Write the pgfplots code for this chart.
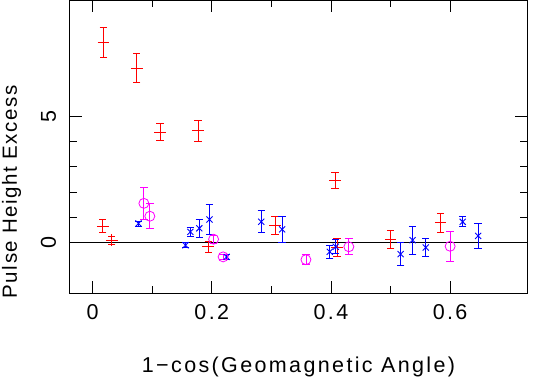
\documentclass[border=0pt]{standalone}
\usepackage{fontspec}
\setmainfont{Liberation Sans}[LetterSpace=11]
\newfontfamily\ylabfont{Liberation Sans}[LetterSpace=7.5]
\usepackage{pgfplots}
\pgfplotsset{compat=1.18}

\definecolor{pred}{RGB}{255,0,0}
\definecolor{pblue}{RGB}{0,0,255}
\definecolor{pmag}{RGB}{255,0,255}

\begin{document}
\begin{tikzpicture}
\path[use as bounding box] (-70pt,-85pt) rectangle (463pt,293pt);
\begin{axis}[
  scale only axis, width=457pt, height=293pt,
  xmin=-0.038, xmax=0.729, ymin=-2, ymax=9.6,
  xtick={0,0.2,0.4,0.6}, minor x tick num=1,
  ytick={0,5}, minor y tick num=4,
  tick align=inside, tick pos=both,
  major tick length=12pt, minor tick length=7pt,
  axis line style={black, line width=1pt},
  every tick/.style={black, line width=0.8pt},
  /pgf/number format/assume math mode=true,
  tick label style={font=\fontsize{21.5}{25}\selectfont},
  xticklabel style={anchor=base, yshift=0pt},
  xticklabel shift=26pt,
  yticklabel style={rotate=90, anchor=base},
  yticklabel shift=14pt,
  xlabel={1−cos(Geomagnetic Angle)},
  ylabel={Pulse Height Excess},
  xlabel style={font=\fontsize{21.5}{25}\selectfont, at={(axis description cs:0.5,0)}, anchor=base, yshift=-79.5pt},
  ylabel style={font=\ylabfont\fontsize{20.5}{24}\selectfont, at={(axis description cs:-0.116,0.345)}, anchor=base},
  error bars/y dir=both, error bars/y explicit,
  error bars/error mark options={rotate=90, mark size=3.7pt, line width=0.8pt},
  error bars/error bar style={line width=0.8pt},
]
\draw[black, line width=0.8pt] (axis cs:-0.038,0) -- (axis cs:0.729,0);

% red crosses
\addplot[only marks, pred, mark=+, mark size=5.8pt, mark options={line width=0.8pt}]
coordinates {
(0.018,7.92) +- (0,0.61)
(0.074,6.90) +- (0,0.58)
(0.113,4.37) +- (0,0.34)
(0.177,4.42) +- (0,0.41)
(0.017,0.65) +- (0,0.26)
(0.032,0.09) +- (0,0.17)
(0.194,-0.17) +- (0,0.22)
(0.306,0.69) +- (0,0.36)
(0.407,2.47) +- (0,0.32)
(0.410,-0.20) +- (0,0.35)
(0.500,0.12) +- (0,0.34)
(0.584,0.78) +- (0,0.38)
};

% blue x
\addplot[only marks, pblue, mark=x, mark size=4.3pt, mark options={line width=0.9pt}]
coordinates {
(0.077,0.75) +- (0,0.10)
(0.156,-0.11) +- (0,0.10)
(0.164,0.42) +- (0,0.17)
(0.179,0.56) +- (0,0.36)
(0.196,0.91) +- (0,0.58)
(0.225,-0.57) +- (0,0.08)
(0.283,0.82) +- (0,0.44)
(0.318,0.52) +- (0,0.50)
(0.398,-0.37) +- (0,0.25)
(0.408,-0.17) +- (0,0.28)
(0.517,-0.46) +- (0,0.46)
(0.537,0.09) +- (0,0.56)
(0.559,-0.20) +- (0,0.35)
(0.621,0.82) +- (0,0.20)
(0.647,0.26) +- (0,0.48)
};

% magenta circles
\addplot[only marks, pmag, mark=o, mark size=5pt, mark options={line width=0.8pt}]
coordinates {
(0.086,1.55) +- (0,0.62)
(0.096,1.04) +- (0,0.49)
(0.203,0.13) +- (0,0.15)
(0.219,-0.57) +- (0,0.10)
(0.358,-0.68) +- (0,0.20)
(0.430,-0.17) +- (0,0.32)
(0.600,-0.15) +- (0,0.58)
};
\end{axis}
\end{tikzpicture}
\end{document}
